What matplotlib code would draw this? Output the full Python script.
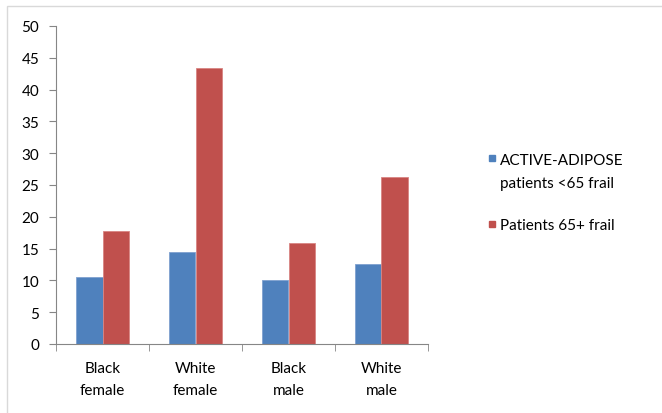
import numpy as np
import matplotlib
matplotlib.use("Agg")
import matplotlib.pyplot as plt
from matplotlib.patches import Rectangle

plt.rcParams["font.family"] = ["Lato", "DejaVu Sans"]

categories = ["Black\nfemale", "White\nfemale", "Black\nmale", "White\nmale"]
under65 = [10.6, 14.4, 10.1, 12.6]
over65 = [17.7, 43.4, 15.9, 26.2]
series_names = ["ACTIVE-ADIPOSE\npatients <65 frail", "Patients 65+ frail"]

blue = "#4F81BD"
red = "#C0504D"
axis_gray = "#868686"

W, H = 662, 414
fig = plt.figure(figsize=(W / 100, H / 100), dpi=100)
# light chart border like the excel chart area
fig.patches.append(Rectangle((7 / W, -0.01), 1.0, 1 - 7 / H + 0.01,
                             transform=fig.transFigure, fill=False,
                             edgecolor="#D9D9D9", linewidth=1))

ax = fig.add_axes([56 / W, 1 - 345 / H, (428 - 56) / W, (345 - 27) / H])

x = np.arange(len(categories))
w = 0.28
b1 = ax.bar(x - w / 2, under65, w, color=blue, edgecolor="#7FA0CF", linewidth=0.6)
b2 = ax.bar(x + w / 2, over65, w, color=red, edgecolor="#D98583", linewidth=0.6)

ax.set_xlim(-0.5, len(categories) - 0.5)
ax.set_ylim(0, 50)
ax.set_yticks(np.arange(0, 51, 5))
ax.set_xticks(x)
ax.set_xticklabels(categories, fontsize=11, linespacing=1.75)
ax.set_xticks(np.arange(-0.5, len(categories), 1), minor=True)
ax.tick_params(axis="x", which="major", length=0, pad=12)
ax.tick_params(axis="x", which="minor", length=5, color=axis_gray, direction="out")
ax.tick_params(axis="y", length=5, color=axis_gray, labelsize=11, pad=7)

for s in ["top", "right"]:
    ax.spines[s].set_visible(False)
ax.spines["left"].set_color(axis_gray)
ax.spines["bottom"].set_color(axis_gray)

# legend drawn by hand so the marker sits on the first line of a 2-line label
legend_rows = [(159, 165), (224.5, 230)]  # (marker centre y, first baseline y) in px
for (my, base), name, bars in zip(legend_rows, series_names, [b1, b2]):
    col = bars.patches[0].get_facecolor()
    fig.patches.append(Rectangle((488.5 / W, 1 - (my + 3) / H), 6 / W, 6 / H,
                                 transform=fig.transFigure, color=col))
    for i, line in enumerate(name.split("\n")):
        fig.text(500 / W, 1 - (base + i * 23.5) / H, line, fontsize=11,
                 va="baseline", ha="left", color="black")

fig.savefig("out.png", dpi=100)
